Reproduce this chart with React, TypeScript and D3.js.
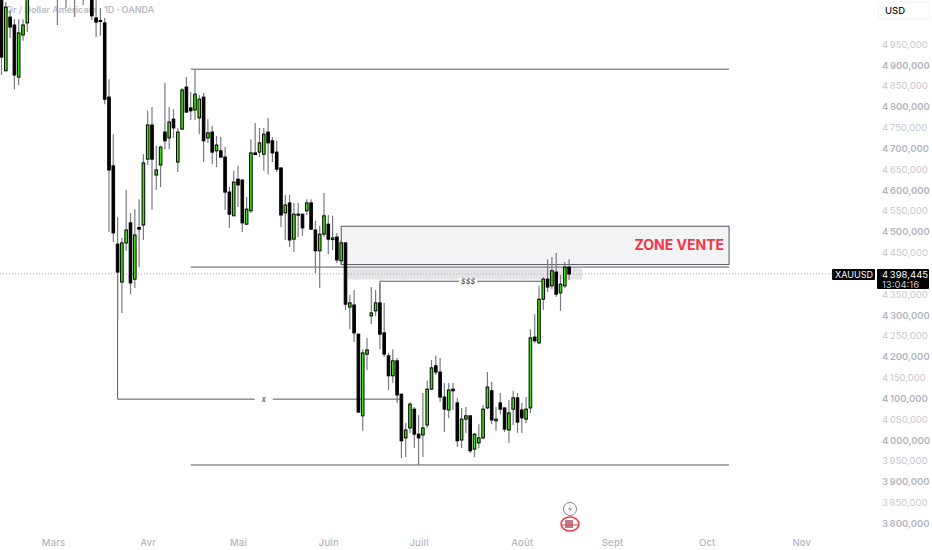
import { useEffect, useRef } from "react";
import * as d3 from "d3";

// daily candles (bars 7-20 sit above the visible range)
const opens = [5068,4886,5015,4996,4871,4972,5001,5090,5120,5150,5130,5170,5200,5160,5100,5140,5090,5130,5080,5110,5075,5100,5013,5007,5001,4823,4658,4470,4379,4473,4521,4386,4510,4516,4674,4756,4636,4660,4739,4725,4770,4667,4746,4847,4797,4792,4773,4823,4725,4739,4694,4694,4679,4595,4538,4626,4624,4518,4550,4689,4691,4686,4739,4718,4691,4653,4545,4569,4482,4542,4542,4550,4569,4504,4454,4494,4518,4481,4487,4430,4473,4319,4324,4254,4058,4206,4298,4310,4329,4257,4202,4154,4190,4110,4005,4029,4074,4014,4012,4036,4122,4178,4163,4103,4072,4122,4089,4000,4050,4058,3978,3993,4005,4077,4118,4046,4089,4077,4024,4074,4101,4072,4050,4077,4247,4233,4338,4386,4370,4403,4353,4370,4415];
const highs = [5092,5051,5032,5010,5010,5010,5080,5130,5170,5190,5180,5220,5240,5190,5150,5170,5140,5160,5120,5140,5120,5110,5061,5037,5013,4866,4734,4535,4485,4600,4545,4554,4578,4686,4790,4799,4706,4706,4857,4799,4794,4749,4845,4871,4835,4890,4828,4833,4770,4754,4730,4727,4703,4607,4646,4658,4624,4583,4722,4761,4749,4749,4773,4727,4718,4653,4588,4588,4569,4569,4542,4578,4578,4526,4514,4593,4540,4538,4497,4480,4473,4348,4360,4254,4218,4245,4367,4360,4377,4329,4209,4218,4197,4110,4041,4091,4079,4060,4113,4142,4192,4202,4197,4137,4137,4137,4101,4077,4079,4058,4017,4038,4084,4163,4139,4079,4113,4077,4096,4118,4113,4089,4103,4266,4302,4370,4391,4434,4439,4449,4396,4427,4434];
const lows = [4876,4886,4965,4842,4852,4958,4979,5070,5100,5120,5110,5150,5140,4996,5070,5037,5070,5015,5065,5044,5062,5008,4967,4970,4806,4499,4475,4288,4305,4454,4350,4365,4415,4480,4660,4552,4600,4607,4698,4698,4725,4643,4746,4785,4768,4768,4734,4667,4713,4662,4655,4677,4552,4509,4538,4559,4499,4516,4545,4684,4679,4646,4638,4667,4643,4511,4480,4463,4451,4487,4490,4540,4504,4401,4365,4487,4446,4456,4425,4420,4312,4266,4235,4065,4022,4168,4278,4298,4218,4199,4120,4137,4089,3957,3959,4017,3981,3940,3959,4029,4120,4156,4091,4019,4053,4072,3983,3981,4017,3969,3959,3981,4002,4074,4038,4022,4062,4019,3993,4036,4017,4017,4041,4065,4233,4230,4312,4355,4362,4343,4310,4365,4384];
const closes = [4919,5039,4991,4876,4977,4996,5063,5120,5150,5130,5170,5200,5160,5100,5140,5090,5130,5080,5110,5075,5100,5018,5003,5005,4818,4648,4497,4403,4473,4504,4377,4492,4506,4665,4756,4674,4648,4703,4718,4763,4749,4739,4840,4787,4790,4830,4818,4718,4737,4691,4708,4679,4595,4542,4619,4612,4521,4554,4689,4685,4713,4734,4713,4689,4650,4540,4564,4480,4542,4540,4509,4569,4506,4454,4494,4538,4482,4485,4432,4473,4326,4329,4257,4067,4209,4216,4305,4329,4254,4206,4154,4190,4108,3998,4024,4086,4014,4005,4029,4122,4173,4163,4103,4074,4120,4118,3998,4050,4058,3974,4014,4005,4074,4127,4048,4050,4074,4026,4065,4101,4043,4053,4074,4245,4238,4338,4386,4367,4406,4350,4374,4415,4398.445];

// 4 400,000 sits behind the last price tag, so it is left out
const priceTicks = d3.range(3800, 4951, 50).filter(p => p !== 4400);
const monthLabels = ["Mars", "Avr", "Mai", "Juin", "Juill", "Août", "Sept", "Oct", "Nov"];
const monthBars = [12, 34, 55, 76, 97, 121, 142, 164, 186];

const lastPrice = 4398.445;
const highLevel = 4890;
const midLevel = 4415;
const lowLevel = 3940;
const sellZone = [4513, 4421];
const liquidityZone = [4412, 4385];
const liquidityLevel = 4381;
const xLevel = 4098;

const W = 932;
const H = 550;
const GREY = "#b2b5be";
const LINE = "#555862";
const fmt = (p: number) => `${Math.floor(p / 1000)}\u2009${String(Math.floor(p % 1000)).padStart(3, "0")},000`;

export default function App() {
    const svgRef = useRef<SVGSVGElement>(null);

    useEffect(() => {
        if (!svgRef.current) return;
        const svg = d3.select(svgRef.current);
        svg.selectAll("*").remove();

        const x = d3.scaleLinear().domain([0, 186]).range([1.5, 801.3]);
        const y = d3.scaleLinear().domain([3800, 4900]).range([523.3, 65]);
        const font = "Inter, 'Noto Sans', sans-serif";

        svg.append("rect").attr("width", W).attr("height", H).attr("fill", "#fff");

        // Title
        svg.append("text").attr("x", 6).attr("y", 13)
            .attr("font-family", font).attr("font-size", 9).attr("font-weight", 600)
            .attr("fill", "#b8bbc4")
            .text("Or / Dollar Américain · 1D · OANDA");

        // Zones
        svg.append("rect")
            .attr("x", x(79)).attr("width", x(169.2) - x(79))
            .attr("y", y(sellZone[0])).attr("height", y(sellZone[1]) - y(sellZone[0]))
            .attr("fill", "#f2f3f5").attr("stroke", LINE).attr("stroke-width", 1);
        svg.append("rect")
            .attr("x", x(80.5)).attr("width", x(135) - x(80.5))
            .attr("y", y(liquidityZone[0])).attr("height", y(liquidityZone[1]) - y(liquidityZone[0]))
            .attr("fill", "#e4e4e6");

        // Levels
        const hLine = (p: number, a: number, b: number) => svg.append("line")
            .attr("x1", x(a)).attr("x2", x(b)).attr("y1", y(p)).attr("y2", y(p))
            .attr("stroke", LINE).attr("stroke-width", 1);
        const vLine = (i: number, p1: number, p2: number) => svg.append("line")
            .attr("x1", x(i)).attr("x2", x(i)).attr("y1", y(p1)).attr("y2", y(p2))
            .attr("stroke", LINE).attr("stroke-width", 1);
        hLine(highLevel, 44, 169.2);
        hLine(midLevel, 44, 169.2);
        hLine(lowLevel, 44, 169.2);
        hLine(liquidityLevel, 88, 126);
        vLine(88, liquidityLevel, 4329);
        hLine(xLevel, 27, 93);
        vLine(27, 4400, xLevel);

        const labelOn = (t: string, i: number, p: number) => {
            svg.append("rect").attr("x", x(i) - 9).attr("width", 18).attr("y", y(p) - 3).attr("height", 6).attr("fill", "#fff");
            svg.append("text").attr("x", x(i)).attr("y", y(p) + 3)
                .attr("text-anchor", "middle").attr("font-family", font).attr("font-size", 7.5)
                .attr("font-style", "italic").attr("fill", "#333").text(t);
        };
        labelOn("$$$", 108.5, liquidityLevel);
        labelOn("x", 61, xLevel);

        // Last price line
        svg.append("line")
            .attr("x1", 0).attr("x2", 833).attr("y1", y(lastPrice)).attr("y2", y(lastPrice))
            .attr("stroke", "#a8abb2").attr("stroke-width", 1).attr("stroke-dasharray", "1,2");

        // Candles
        const bars = d3.range(opens.length);
        svg.selectAll(".wick").data(bars).enter().append("line")
            .attr("class", "wick")
            .attr("x1", i => x(i)).attr("x2", i => x(i))
            .attr("y1", i => y(highs[i])).attr("y2", i => y(lows[i]))
            .attr("stroke", "#787b86").attr("stroke-width", 1.2);
        svg.selectAll(".candle").data(bars).enter().append("rect")
            .attr("class", "candle")
            .attr("x", i => x(i) - 1.3).attr("width", 2.6)
            .attr("y", i => y(Math.max(opens[i], closes[i])))
            .attr("height", i => Math.max(1, Math.abs(y(opens[i]) - y(closes[i]))))
            .attr("fill", i => closes[i] >= opens[i] ? "#39e600" : "#000")
            .attr("stroke", "#000").attr("stroke-width", 1);

        // Zone label
        svg.append("text").attr("x", 724).attr("y", 250)
            .attr("text-anchor", "end").attr("font-family", font).attr("font-size", 14).attr("font-weight", 700)
            .attr("fill", "#f23645").text("ZONE VENTE");

        // Price axis
        const yAxis = svg.append("g")
            .attr("transform", "translate(882,0)")
            .call(d3.axisRight(y).tickValues(priceTicks).tickSize(0).tickPadding(0).tickFormat(d => fmt(+d)));
        yAxis.select(".domain").remove();
        yAxis.selectAll<SVGTextElement, number>("text")
            .attr("font-family", font).attr("font-size", 9.5)
            .attr("font-weight", d => (d % 100 === 0 ? 600 : 400))
            .attr("fill", d => (d % 100 === 0 ? GREY : "#c6c8ce"));

        // Time axis
        const xAxis = svg.append("g")
            .attr("transform", "translate(0,539)")
            .call(d3.axisBottom(x).tickValues(monthBars).tickSize(0).tickPadding(0)
                .tickFormat((_, i) => monthLabels[i]));
        xAxis.select(".domain").remove();
        xAxis.selectAll("text").attr("font-family", font).attr("font-size", 9.5).attr("font-weight", 500)
            .attr("letter-spacing", 0.2).attr("fill", GREY);

        // Currency button
        svg.append("rect").attr("x", 878).attr("y", 2).attr("width", 51).attr("height", 17).attr("rx", 3)
            .attr("fill", "#fff").attr("stroke", "#f0f3fa");
        svg.append("text").attr("x", 885).attr("y", 14).attr("font-family", font).attr("font-size", 9.5)
            .attr("font-weight", 500).attr("fill", "#131722").text("USD");

        // Last price tags
        svg.append("rect").attr("x", 832).attr("y", 269).attr("width", 43).attr("height", 11).attr("rx", 1).attr("fill", "#000");
        svg.append("text").attr("x", 854).attr("y", 278).attr("text-anchor", "middle").attr("font-family", font)
            .attr("font-size", 9).attr("fill", "#fff").text("XAUUSD");
        svg.append("rect").attr("x", 877).attr("y", 269).attr("width", 52).attr("height", 20).attr("rx", 1).attr("fill", "#000");
        svg.append("text").attr("x", 882).attr("y", 277.5).attr("font-family", font).attr("font-size", 9.5)
            .attr("fill", "#fff").text("4\u2009398,445");
        svg.append("text").attr("x", 882).attr("y", 287.5).attr("font-family", font).attr("font-size", 9.5)
            .attr("fill", "#c8cad0").text("13:04:16");

        // Event icons
        svg.append("circle").attr("cx", 570).attr("cy", 509).attr("r", 6.5)
            .attr("fill", "#fff").attr("stroke", "#8a7a94").attr("stroke-width", 1);
        svg.append("path").attr("d", "M571.5 505 L568 509.5 L570.5 509.5 L568.5 513 L572 508.5 L569.5 508.5 Z").attr("fill", "#8a7a94");
        svg.append("ellipse").attr("cx", 570).attr("cy", 524).attr("rx", 9).attr("ry", 7)
            .attr("fill", "#fff").attr("stroke", "#f23645").attr("stroke-width", 1.5);
        svg.append("rect").attr("x", 565).attr("y", 520).attr("width", 8).attr("height", 8).attr("fill", "#b9808c");
        svg.append("line").attr("x1", 562).attr("x2", 578).attr("y1", 525).attr("y2", 525).attr("stroke", "#f23645");
    }, []);

    return (
        <svg ref={svgRef} width={W} height={H} style={{ position: "absolute", left: 0, top: 0 }}></svg>
    );
}
